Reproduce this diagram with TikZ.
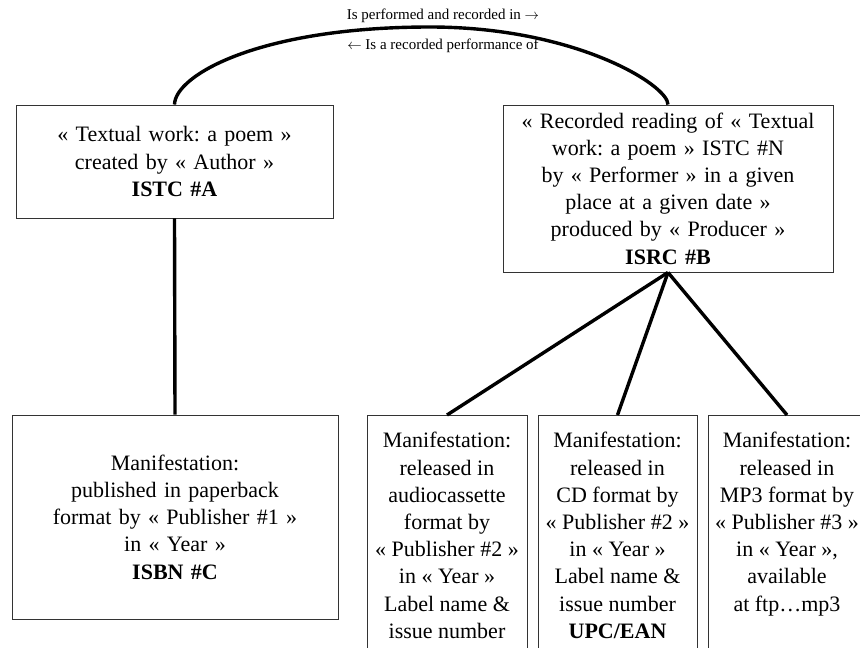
\documentclass[tikz,border=0pt]{standalone}
\usepackage{fontspec}
\setmainfont{Liberation Serif}
\frenchspacing
\begin{document}
\begin{tikzpicture}[x=1pt,y=-1pt,
  box/.style={draw=black!80, line width=0.9pt, inner sep=0pt, align=center,
              font=\fontsize{22}{27.2}\selectfont},
  manif/.style={draw=black!80, line width=0.9pt, anchor=north, inner xsep=0pt,
                inner ysep=17pt, font=\fontsize{22}{27.2}\selectfont},
  conn/.style={line width=3.4pt},
  rel/.style={font=\fontsize{15}{18}\selectfont, inner sep=0pt}]
\useasboundingbox (0,0) rectangle (860,648);
\clip (0,0) rectangle (860,648);

% works
\node[box, minimum width=317pt, minimum height=113pt, text width=310pt] (A) at (174.5,161.5)
  {« Textual work: a poem »\\ created by « Author »\\ \textbf{ISTC \#A}};
\node[box, minimum width=330pt, minimum height=167pt, text width=320pt] (B) at (668,188.5)
  {« Recorded reading of « Textual\\ work: a poem » ISTC \#N\\ by « Performer » in a given\\
   place at a given date »\\ produced by « Producer »\\ \textbf{ISRC \#B}};

% manifestations
\node[box, minimum width=326pt, minimum height=204pt, text width=320pt] (C) at (175,517)
  {Manifestation:\\ published in paperback\\ format by « Publisher \#1 »\\ in « Year »\\ \textbf{ISBN \#C}};
\node[manif] (D) at (447,415)
  {\parbox[t][260pt][t]{160pt}{\centering Manifestation:\\ released in\\ audiocassette\\ format by\\
   « Publisher \#2 »\\ in « Year »\\ Label name \&\\ issue number}};
\node[manif] (E) at (617.5,415)
  {\parbox[t][260pt][t]{159pt}{\centering Manifestation:\\ released in\\ CD format by\\
   « Publisher \#2 »\\ in « Year »\\ Label name \&\\ issue number\\ \textbf{UPC/EAN}}};
\node[manif] (F) at (787,415)
  {\parbox[t][260pt][t]{158pt}{\centering Manifestation:\\ released in\\ MP3 format by\\
   « Publisher \#3 »\\ in « Year »,\\ available\\ at ftp…mp3}};

% relations
\coordinate (peak) at (430,27);
\draw[conn] (A.north) .. controls (175,75) and (260,27) .. (peak)
            .. controls (575,27) and (668,85) .. (B.north);
\node[rel] (l1) at (443,16) {Is performed and recorded in $\rightarrow$};
\node[rel] (l2) at (443,46) {$\leftarrow$ Is a recorded performance of};

\draw[conn] (A.south) -- (C.north);
\draw[conn] (B.south) -- (D.north);
\draw[conn] (B.south) -- (E.north);
\draw[conn] (B.south) -- (F.north);
\end{tikzpicture}
\end{document}
